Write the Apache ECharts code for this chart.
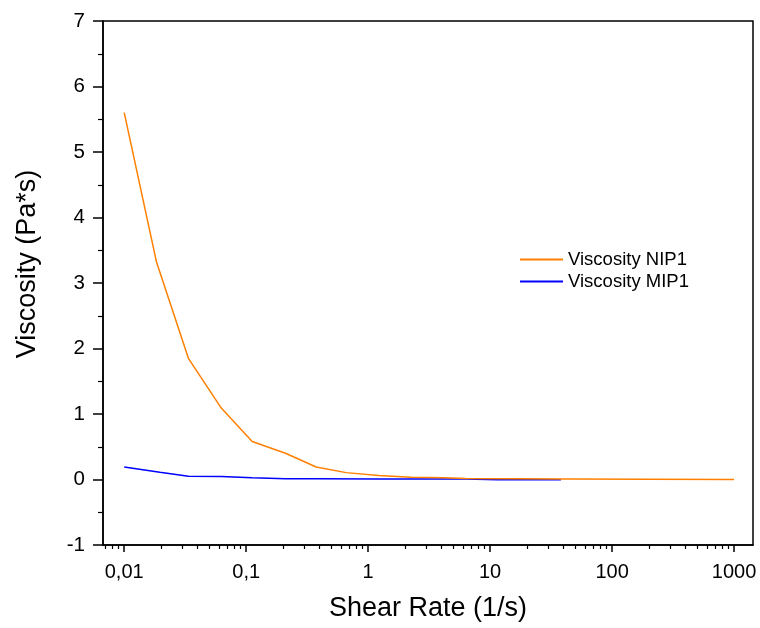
<!DOCTYPE html>
<html>
<head>
<meta charset="utf-8">
<script src="https://cdn.jsdelivr.net/npm/echarts@6/dist/echarts.min.js"></script>
<style>
  html, body { margin: 0; padding: 0; background: #fff; }
  #chart { width: 760px; height: 628px; }
</style>
</head>
<body>
<div id="chart"></div>
<script>
// shear rate (1/s) and viscosity (Pa*s)
const nipRate = [0.01, 0.0184, 0.0336, 0.0625, 0.112, 0.21, 0.375, 0.66, 1.22, 2.25, 4.15, 6.3, 40, 1000]
const nipVisc = [5.6, 3.32, 1.85, 1.09, 0.58, 0.40, 0.19, 0.105, 0.06, 0.035, 0.025, 0.015, 0.008, 0.0]

const mipRate = [0.01, 0.0196, 0.0336, 0.0625, 0.112, 0.21, 0.375, 1.22, 6.3, 11.5, 38]
const mipVisc = [0.19, 0.11, 0.05, 0.045, 0.025, 0.012, 0.01, 0.008, 0.008, -0.005, -0.005]

const xTickValues = [0.01, 0.1, 1, 10, 100, 1000]
const xTickLabels = ['0,01', '0,1', '1', '10', '100', '1000']

const FONT = 'Liberation Sans, Arial, sans-serif'
const xMin = Math.log10(0.0067)
const xMax = Math.log10(1430)

const toLog = (rates, values) => rates.map((r, i) => [Math.log10(r), values[i]])

// minor ticks 2..9 of each decade inside the range
const minorTicks = []
for (let d = -3; d <= 3; d++) {
    for (let m = 2; m <= 9; m++) {
        const v = Math.log10(m * Math.pow(10, d))
        if (v > xMin && v < xMax) minorTicks.push(v)
    }
}
const majorTicks = xTickValues.map(v => Math.log10(v))

const chart = echarts.init(document.getElementById('chart'))

chart.setOption({
    animation: false,
    backgroundColor: '#fff',
    grid: {
        left: 103,
        right: 7,
        top: 21,
        bottom: 83,
        show: true,
        borderColor: '#000',
        borderWidth: 1.5
    },
    legend: {
        data: ['Viscosity NIP1', 'Viscosity MIP1'],
        orient: 'vertical',
        left: 515,
        top: 245,
        itemWidth: 43,
        itemHeight: 2,
        itemGap: 3,
        icon: 'rect',
        textStyle: { fontFamily: FONT, fontSize: 18.5, color: '#000' }
    },
    xAxis: [
        {
            type: 'value',
            min: xMin,
            max: xMax,
            name: 'Shear Rate (1/s)',
            nameLocation: 'middle',
            nameGap: 50,
            nameTextStyle: { fontFamily: FONT, fontSize: 27, color: '#000' },
            axisLine: { onZero: false, lineStyle: { color: '#000', width: 1.5 } },
            axisTick: { customValues: majorTicks, length: 7, lineStyle: { color: '#000', width: 1.5 } },
            axisLabel: {
                customValues: majorTicks,
                margin: 17,
                fontFamily: FONT,
                fontSize: 20,
                color: '#000',
                formatter: v => xTickLabels[majorTicks.findIndex(t => Math.abs(t - v) < 1e-6)] ?? ''
            },
            splitLine: { show: false }
        },
        {
            type: 'value',
            min: xMin,
            max: xMax,
            position: 'bottom',
            axisLine: { show: false, onZero: false },
            axisTick: { customValues: minorTicks, length: 4, lineStyle: { color: '#000', width: 1.2 } },
            axisLabel: { show: false },
            splitLine: { show: false }
        }
    ],
    yAxis: {
        type: 'value',
        min: -1,
        max: 7,
        interval: 1,
        name: 'Viscosity (Pa*s)',
        nameLocation: 'middle',
        nameGap: 62,
        nameTextStyle: { fontFamily: FONT, fontSize: 27, color: '#000', padding: [0, 0, 0, 38] },
        axisLine: { show: true, onZero: false, lineStyle: { color: '#000', width: 1.5 } },
        axisTick: { show: true, length: 10, lineStyle: { color: '#000', width: 1.5 } },
        minorTick: { show: true, splitNumber: 2, length: 5, lineStyle: { color: '#000', width: 1.2 } },
        axisLabel: { margin: 18, fontFamily: FONT, fontSize: 20.5, color: '#000' },
        splitLine: { show: false }
    },
    series: [
        {
            name: 'Viscosity MIP1',
            type: 'line',
            data: toLog(mipRate, mipVisc),
            showSymbol: false,
            lineStyle: { color: '#0000ff', width: 1.5 },
            itemStyle: { color: '#0000ff' }
        },
        {
            name: 'Viscosity NIP1',
            type: 'line',
            data: toLog(nipRate, nipVisc),
            showSymbol: false,
            lineStyle: { color: '#ff8000', width: 1.5 },
            itemStyle: { color: '#ff8000' }
        }
    ]
})
</script>
</body>
</html>
